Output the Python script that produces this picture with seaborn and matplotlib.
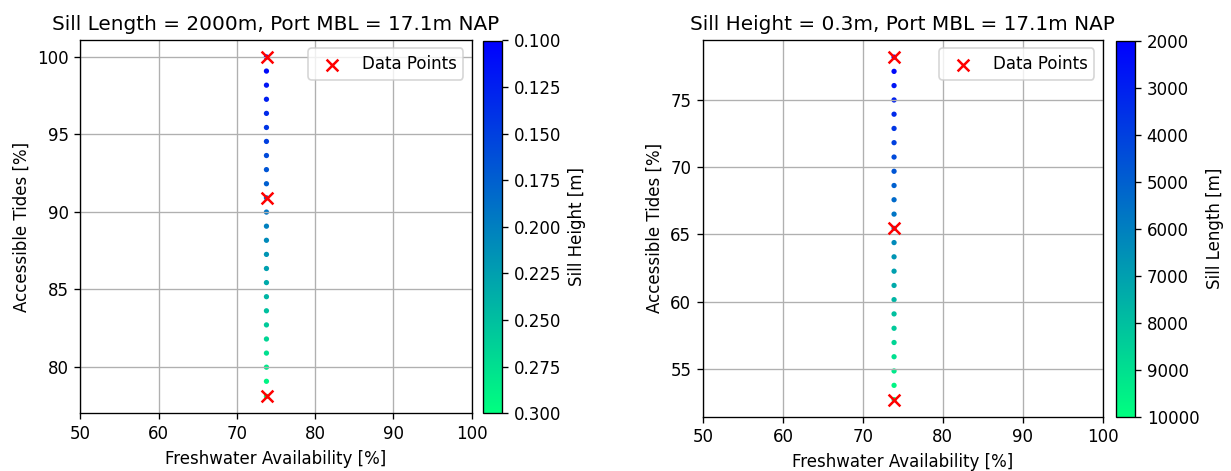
import matplotlib
matplotlib.use("Agg")
import matplotlib.pyplot as plt
import seaborn as sns
from matplotlib.colors import Normalize
from matplotlib.cm import ScalarMappable

# ---- Left panel data (Sill Length = 2000 m) ----
sill_height = [0.1000, 0.1083, 0.1167, 0.1250, 0.1333, 0.1417, 0.1500, 0.1583,
               0.1667, 0.1750, 0.1833, 0.1917, 0.2000, 0.2083, 0.2167, 0.2250,
               0.2333, 0.2417, 0.2500, 0.2583, 0.2667, 0.2750, 0.2833, 0.2917, 0.3000]
fw_left = [73.78] * 25
tides_left = [100.00, 99.09, 98.18, 97.27, 96.36, 95.45, 94.55, 93.64, 92.73,
              91.82, 90.91, 89.99, 89.08, 88.17, 87.26, 86.35, 85.44, 84.53,
              83.62, 82.71, 81.80, 80.89, 79.98, 79.07, 78.10]
pts_fw_left = [73.85, 73.85, 73.9]
pts_tides_left = [100.0, 90.9, 78.1]
cbar_ticks_left = [0.100, 0.125, 0.150, 0.175, 0.200, 0.225, 0.250, 0.275, 0.300]

# ---- Right panel data (Sill Height = 0.3 m) ----
sill_length = [2000, 2333, 2667, 3000, 3333, 3667, 4000, 4333, 4667, 5000, 5333,
               5667, 6000, 6333, 6667, 7000, 7333, 7667, 8000, 8333, 8667, 9000,
               9333, 9667, 10000]
fw_right = [73.9] * 25
tides_right = [78.20, 77.14, 76.08, 75.01, 73.95, 72.89, 71.83, 70.76, 69.70,
               68.64, 67.58, 66.51, 65.45, 64.39, 63.33, 62.26, 61.20, 60.14,
               59.08, 58.01, 56.95, 55.89, 54.83, 53.76, 52.70]
pts_fw_right = [73.92, 73.92, 73.92]
pts_tides_right = [78.2, 65.45, 52.7]
cbar_ticks_right = [2000, 3000, 4000, 5000, 6000, 7000, 8000, 9000, 10000]

W, H, DPI = 1231, 471, 120
fig = plt.figure(figsize=(W / DPI, H / DPI), dpi=DPI)


def box(x0, y_top, w, y_bot):
    return [x0 / W, 1 - y_bot / H, w / W, (y_bot - y_top) / H]


ax1 = fig.add_axes(box(80.3, 40, 391.4, 413.3))
cax1 = fig.add_axes(box(483.3, 40.5, 19, 413.3))
ax2 = fig.add_axes(box(703, 40, 399.7, 416.7))
cax2 = fig.add_axes(box(1115.7, 40.5, 19.3, 416.7))


def panel(ax, cax, fw, tides, cval, vmin, vmax, pfw, ptides, title, cblabel, ticks):
    sns.scatterplot(x=fw, y=tides, hue=cval, palette="winter",
                    hue_norm=(vmin, vmax), s=10, linewidth=0, legend=False, ax=ax)
    sns.scatterplot(x=pfw, y=ptides, marker="x", color="red", s=50,
                    linewidth=1.5, label="Data Points", ax=ax, zorder=3)
    ax.set_xlim(50, 100)
    ax.grid(True)
    ax.set_title(title, fontsize=12)
    ax.set_xlabel("Freshwater Availability [%]")
    ax.set_ylabel("Accessible Tides [%]")
    ax.legend(loc="upper right")
    sm = ScalarMappable(norm=Normalize(vmin, vmax), cmap="winter")
    cb = fig.colorbar(sm, cax=cax)
    cb.set_ticks(ticks)
    cb.set_label(cblabel)
    cax.invert_yaxis()


panel(ax1, cax1, fw_left, tides_left, sill_height, 0.1, 0.3, pts_fw_left,
      pts_tides_left, "Sill Length = 2000m, Port MBL = 17.1m NAP",
      "Sill Height [m]", cbar_ticks_left)
cax1.set_yticklabels([f"{t:.3f}" for t in cbar_ticks_left])
panel(ax2, cax2, fw_right, tides_right, sill_length, 2000, 10000, pts_fw_right,
      pts_tides_right, "Sill Height = 0.3m, Port MBL = 17.1m NAP",
      "Sill Length [m]", cbar_ticks_right)

fig.savefig("out.png", dpi=DPI)
